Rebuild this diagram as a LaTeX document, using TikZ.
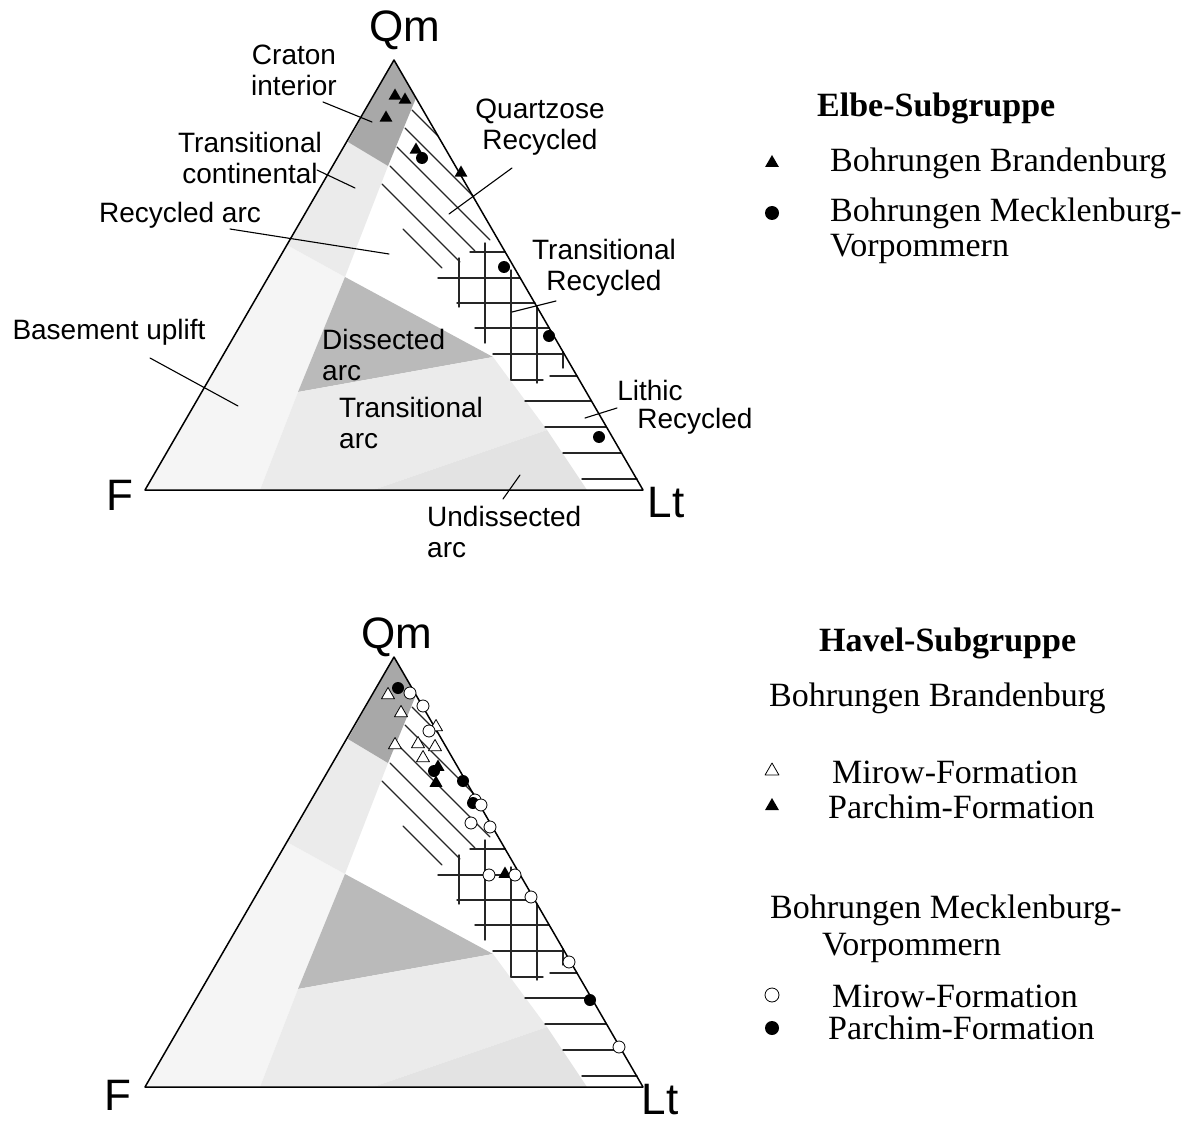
\documentclass[tikz,border=0pt]{standalone}
\usepackage{fontspec}
\setmainfont{Liberation Serif}
\newfontfamily\arialfont{Liberation Sans}
\usetikzlibrary{shapes.geometric}

\begin{document}
\begin{tikzpicture}
    [line cap=round,line join=round,x=1pt,y=-1pt,
     field/.style={font=\arialfont\fontsize{28}{31}\selectfont,inner sep=0pt,align=center},
     apex/.style={font=\arialfont\fontsize{44}{44}\selectfont,inner sep=0pt},
     legtext/.style={font=\fontsize{34}{36}\selectfont,inner sep=0pt,anchor=base west},
     hatch/.style={line width=1.4pt,black!85},
     leader/.style={line width=1.1pt},
     ftri/.style={regular polygon,regular polygon sides=3,fill=black,inner sep=0pt,minimum size=15pt},
     otri/.style={ftri,fill=white,draw=black,line width=0.8pt},
     fdot/.style={circle,fill=black,inner sep=0pt,minimum size=12pt},
     odot/.style={fdot,fill=white,draw=black,line width=0.8pt}]
\useasboundingbox (0,0) rectangle (1187,1126);

%fields and hatching, same for upper and lower diagram
\foreach \oy in {0,597}{
\begin{scope}[yshift={-\oy pt}]
  \fill[black!4] (145,490) -- (287,245) -- (345,277) -- (298,392) -- (260,490) -- cycle;
  \fill[black!8] (348,142) -- (388,166) -- (345,277) -- (287,245) -- cycle;
  \fill[black!34] (394,60) -- (416,98) -- (388,166) -- (348,142) -- cycle;
  \fill[black!27] (345,277) -- (493,357) -- (298,392) -- cycle;
  \fill[black!8] (298,392) -- (493,357) -- (547,430) -- (373,490) -- (260,490) -- cycle;
  \fill[black!11] (373,490) -- (547,430) -- (587,490) -- cycle;
  %quartzose recycled
  \foreach \ax/\ay/\bx/\by in {412/110/438/136,405/128/474/197,397/147/490/240,
      390/166/475/251,382/184/460/262,403/229/442/268}
    \draw[hatch] (\ax,\ay) -- (\bx,\by);
  %transitional recycled
  \foreach \ax/\bx/\y in {470/505/252,438/520/278,457/535/303,475/549/328,493/564/354,511/543/380}
    \draw[hatch] (\ax,\y) -- (\bx,\y);
  \foreach \x/\ay/\by in {459/258/307,485/243/343,511/270/380,537/307/383,563/352/368}
    \draw[hatch] (\x,\ay) -- (\x,\by);
  %lithic recycled
  \foreach \ax/\bx/\y in {550/577/376,525/591/401,545/606/427,563/621/453,582/637/479}
    \draw[hatch] (\ax,\y) -- (\bx,\y);
  \draw[line width=1.5pt] (145,490) -- (643,490) -- (394,60) -- cycle;
\end{scope}}

%corner labels
\node[apex] (qm1) at (405,30) {Qm};
\node[apex] (f1) at (120,495) {F};
\node[apex] (lt1) at (666,503) {Lt};
\node[apex] (qm2) at (397,637) {Qm};
\node[apex] (f2) at (118,1095) {F};
\node[apex] (lt2) at (660,1100) {Lt};

%field names
\node[field] (craton) at (294,70) {Craton\\interior};
\node[field] (trcont) at (250,158) {Transitional\\continental};
\node[field] (recarc) at (180,215) {Recycled arc};
\node[field] (basem) at (109,332) {Basement uplift};
\node[field] (quartz) at (540,127) {Quartzose\\Recycled};
\node[field] (trrec) at (604,268) {Transitional\\Recycled};
\node[field,align=left,anchor=west] (dissarc) at (322,355) {Dissected\\arc};
\node[field,align=left,anchor=west] (trarc) at (339,423) {Transitional\\arc};
\node[field] (lith) at (650,390) {Lithic};
\node[field] (lithrec) at (695,421) {Recycled};
\node[field,align=left,anchor=west] (undarc) at (427,532) {Undissected\\arc};

\coordinate (ciA) at (323,102); \coordinate (ciB) at (372,122);
\coordinate (tcA) at (317,170); \coordinate (tcB) at (355,188);
\coordinate (raA) at (230,229); \coordinate (raB) at (389,254);
\coordinate (buA) at (150,358); \coordinate (buB) at (238,406);
\coordinate (qrA) at (512,168); \coordinate (qrB) at (449,214);
\coordinate (trA) at (556,301); \coordinate (trB) at (512,312);
\coordinate (lrA) at (617,408); \coordinate (lrB) at (585,418);
\coordinate (uaA) at (503,499); \coordinate (uaB) at (520,475);
\draw[leader] (ciA) -- (ciB);
\draw[leader] (tcA) -- (tcB);
\draw[leader] (raA) -- (raB);
\draw[leader] (buA) -- (buB);
\draw[leader] (qrA) -- (qrB);
\draw[leader] (trA) -- (trB);
\draw[leader] (lrA) -- (lrB);
\draw[leader] (uaA) -- (uaB);

%Elbe samples
\node[ftri] (e1) at (395,96) {};
\node[ftri] (e2) at (405,100) {};
\node[ftri] (e3) at (386,118) {};
\node[ftri] (e4) at (416,150) {};
\node[ftri] (e5) at (461,173) {};
\node[fdot] (e6) at (422,158) {};
\node[fdot] (e7) at (504,267) {};
\node[fdot] (e8) at (549,336) {};
\node[fdot] (e9) at (599,437) {};

%Havel samples
\node[fdot] (h1) at (398,688) {};
\node[odot] (h2) at (410,693) {};
\node[otri] (h3) at (388,695) {};
\node[odot] (h4) at (423,706) {};
\node[otri] (h5) at (401,713) {};
\node[otri] (h6) at (436,727) {};
\node[odot] (h7) at (429,731) {};
\node[otri] (h8) at (395,745) {};
\node[otri] (h9) at (418,744) {};
\node[otri] (h10) at (435,747) {};
\node[otri] (h11) at (423,758) {};
\node[fdot] (h12) at (434,771) {};
\node[ftri] (h13) at (438,767) {};
\node[ftri] (h14) at (436,783) {};
\node[fdot] (h15) at (463,781) {};
\node[odot] (h16) at (475,800) {};
\node[fdot] (h17) at (473,803) {};
\node[odot] (h18) at (481,805) {};
\node[odot] (h19) at (471,823) {};
\node[odot] (h20) at (490,827) {};
\node[odot] (h21) at (489,875) {};
\node[ftri] (h22) at (505,874) {};
\node[odot] (h23) at (515,875) {};
\node[odot] (h24) at (531,897) {};
\node[odot] (h25) at (569,962) {};
\node[fdot] (h26) at (590,1000) {};
\node[odot] (h27) at (619,1047) {};

%legend Elbe
\node[legtext,font=\bfseries\fontsize{34}{36}\selectfont] (elbe) at (817,117) {Elbe-Subgruppe};
\node[ftri,minimum size=16pt] (le1) at (772,163) {};
\node[legtext] (lt1t) at (830,172) {Bohrungen Brandenburg};
\node[fdot,minimum size=14pt] (le2) at (772,213) {};
\node[legtext] (lt2t) at (830,222) {Bohrungen Mecklenburg-};
\node[legtext] (lt3t) at (830,257) {Vorpommern};

%legend Havel
\node[legtext,font=\bfseries\fontsize{34}{36}\selectfont] (havel) at (819,651) {Havel-Subgruppe};
\node[legtext] (hb) at (769,706) {Bohrungen Brandenburg};
\node[otri,minimum size=16pt] (lh1) at (772,771) {};
\node[legtext] (hb1) at (832,783) {Mirow-Formation};
\node[ftri,minimum size=16pt] (lh2) at (772,806) {};
\node[legtext] (hb2) at (828,818) {Parchim-Formation};
\node[legtext] (hm) at (770,918) {Bohrungen Mecklenburg-};
\node[legtext] (hm0) at (822,955) {Vorpommern};
\node[odot,minimum size=14pt] (lh3) at (772,995) {};
\node[legtext] (hm1) at (832,1007) {Mirow-Formation};
\node[fdot,minimum size=14pt] (lh4) at (772,1028) {};
\node[legtext] (hm2) at (828,1039) {Parchim-Formation};

\end{tikzpicture}
\end{document}
